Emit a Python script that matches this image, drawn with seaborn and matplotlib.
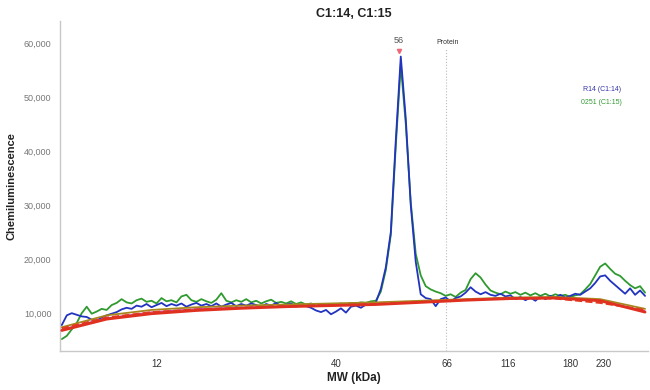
import numpy as np
import pandas as pd
import seaborn as sns
import matplotlib.pyplot as plt

# lane position (px from left of plot area) where the MW ladder labels sit
mw_tick_pos = [97, 277, 388, 450, 512, 545]
mw_tick_labels = ["12", "40", "66", "116", "180", "230"]

# traces, sampled every 5 px starting at position 2 (values in thousands)
blue = [7.8, 9.6, 10.0, 9.7, 9.4, 9.3, 8.8, 8.6, 9.2, 9.6, 9.9, 10.2, 10.7, 11.0, 10.8,
        11.4, 11.2, 11.7, 11.1, 11.5, 11.9, 11.3, 11.7, 11.4, 11.8, 11.2, 11.6, 11.9, 11.4,
        11.7, 11.3, 11.8, 11.2, 11.6, 11.9, 11.3, 11.7, 11.4, 11.8, 11.5, 11.2, 11.7, 11.4,
        11.9, 11.3, 11.6, 11.8, 11.2, 11.6, 11.3, 11.0, 10.5, 10.2, 10.6, 9.8, 10.3, 10.9,
        10.1, 11.2, 11.4, 11.0, 11.6, 11.5, 12.0, 14.5, 18.5, 25.0, 42.0, 57.5, 46.0, 30.0,
        19.5, 13.5, 12.8, 12.6, 11.3, 12.6, 12.9, 12.2, 12.8, 13.1, 13.8, 14.8, 14.0, 13.5,
        13.9, 13.4, 13.2, 13.6, 13.1, 13.3, 12.6, 13.0, 12.4, 12.9, 12.3, 13.1, 12.6, 13.2,
        12.8, 13.4, 12.9, 13.2, 13.6, 13.4, 14.0, 14.6, 15.6, 16.8, 17.0, 16.0, 15.2, 14.4,
        13.6, 14.6, 13.4, 14.2, 13.2]
green = [5.2, 5.8, 7.0, 8.2, 10.0, 11.2, 9.9, 10.3, 10.8, 10.6, 11.5, 11.9, 12.6, 12.0, 11.8,
         12.4, 12.7, 12.1, 12.3, 11.8, 12.8, 12.2, 12.4, 12.0, 13.1, 13.4, 12.4, 12.1, 12.6,
         12.2, 11.9, 12.5, 13.7, 12.3, 12.0, 12.4, 12.1, 12.6, 12.0, 12.3, 11.8, 12.2, 12.5,
         11.9, 12.1, 11.8, 12.2, 11.7, 12.0, 11.6, 11.8, 11.4, 11.6, 11.5, 11.7, 11.5, 11.8,
         11.6, 11.9, 11.8, 12.0, 11.9, 12.2, 12.3, 14.0, 18.0, 24.5, 41.0, 56.0, 45.0, 30.5,
         21.0, 17.0, 15.0, 14.4, 14.0, 13.7, 13.2, 13.5, 13.0, 13.8, 14.3, 16.3, 17.4, 16.6,
         15.3, 14.2, 13.8, 13.5, 14.0, 13.6, 13.9, 13.4, 13.8, 13.3, 13.7, 13.2, 13.6, 13.1,
         13.5, 13.2, 13.4, 13.0, 13.3, 13.5, 14.4, 15.4, 17.0, 18.6, 19.2, 18.2, 17.3, 16.9,
         16.0, 15.2, 14.6, 15.0, 13.8]

# baseline fits, coarser sampling
base_pos = [2, 47, 92, 137, 182, 227, 272, 317, 362, 407, 452, 497, 542, 587]
red_base = [6.8, 8.9, 9.9, 10.5, 10.9, 11.2, 11.4, 11.6, 12.0, 12.4, 12.7, 12.8, 12.3, 10.2]
red_dash = [7.2, 9.2, 10.2, 10.7, 11.0, 11.3, 11.5, 11.7, 12.1, 12.5, 12.8, 12.7, 11.9, 10.6]
olive_base = [7.4, 9.6, 10.6, 11.1, 11.4, 11.6, 11.8, 12.0, 12.3, 12.6, 12.9, 13.0, 12.6, 10.8]
pink_base = [7.0, 9.1, 10.2, 10.8, 11.1, 11.3, 11.5, 11.7, 12.1, 12.5, 12.8, 12.9, 12.4, 10.4]

peak_pos = 340
peak_label = "56"
protein_pos = 387

pos = 2 + 5 * np.arange(len(blue))
traces = pd.DataFrame({"pos": pos, "R14": np.array(blue) * 1000, "0251": np.array(green) * 1000})
bases = pd.DataFrame({"pos": base_pos, "red": np.array(red_base) * 1000,
                      "red_dash": np.array(red_dash) * 1000,
                      "olive": np.array(olive_base) * 1000, "pink": np.array(pink_base) * 1000})

sns.set_style("white")
plt.rcParams['font.family'] = ['Liberation Sans', 'DejaVu Sans']

fig = plt.figure(figsize=(6.5, 3.9), dpi=100)
ax = fig.add_axes([0.092, 0.10, 0.905, 0.845])

sns.lineplot(data=traces, x="pos", y="R14", ax=ax, color="#2233c0", lw=1.3, zorder=3)
sns.lineplot(data=traces, x="pos", y="0251", ax=ax, color="#2f9a2f", lw=1.3, zorder=2)
sns.lineplot(data=bases, x="pos", y="pink", ax=ax, color="#cc44aa", lw=1.0, zorder=4)
sns.lineplot(data=bases, x="pos", y="olive", ax=ax, color="#a8861e", lw=1.3, zorder=4)
sns.lineplot(data=bases, x="pos", y="red_dash", ax=ax, color="#e23b22", lw=1.4, ls="--", zorder=5)
sns.lineplot(data=bases, x="pos", y="red", ax=ax, color="#e03020", lw=2.0, zorder=5)

ax.axvline(protein_pos, color="#bbbbbb", lw=0.8, ls=":", ymax=0.92, zorder=1)
ax.text(protein_pos + 2, 59500, "Protein", fontsize=5, color="#333333", ha="center", va="bottom")
ax.plot([peak_pos], [58600], marker="v", ms=3, color="#ee6677", zorder=6)
ax.text(peak_pos, 59600, peak_label, fontsize=6.5, color="#555555", ha="center", va="bottom")

ax.text(0.955, 0.79, "R14 (C1:14)", transform=ax.transAxes, fontsize=5, color="#3333aa", ha="right")
ax.text(0.955, 0.75, "0251 (C1:15)", transform=ax.transAxes, fontsize=5, color="#339933", ha="right")

ax.set_xlim(0, 590)
ax.set_ylim(3000, 64000)
ax.set_xticks(mw_tick_pos)
ax.set_xticklabels(mw_tick_labels)
ax.set_yticks([10000, 20000, 30000, 40000, 50000, 60000])
ax.set_yticklabels([f"{v:,}" for v in [10000, 20000, 30000, 40000, 50000, 60000]])
ax.tick_params(axis="x", labelsize=7, colors="#333333", length=0, pad=6)
ax.tick_params(axis="y", labelsize=6.5, colors="#777777", length=0, pad=6)
ax.set_xlabel("MW (kDa)", fontsize=8.5, fontweight="bold", color="#222222", labelpad=2)
ax.set_ylabel("Chemiluminescence", fontsize=8, fontweight="bold", color="#222222", labelpad=5)
ax.set_title("C1:14, C1:15", fontsize=9, fontweight="bold", color="#222222", pad=3)

for s in ["top", "right"]:
    ax.spines[s].set_visible(False)
for s in ["left", "bottom"]:
    ax.spines[s].set_color("#c8c8c8")
    ax.spines[s].set_linewidth(1.0)

fig.savefig("out.png", dpi=100)
